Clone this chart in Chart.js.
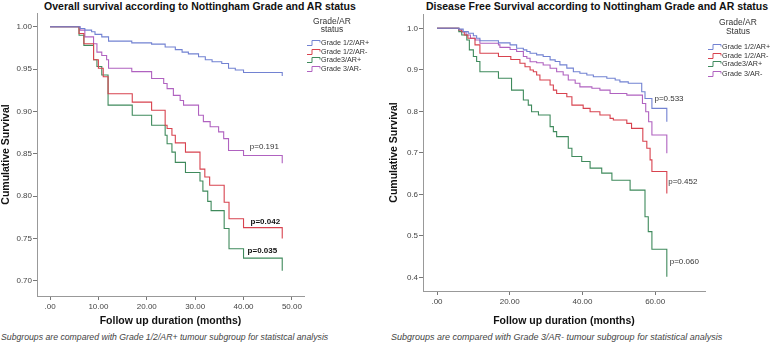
<!DOCTYPE html>
<html>
<head>
<meta charset="utf-8">
<script src="https://cdn.jsdelivr.net/npm/chart.js@4/dist/chart.umd.min.js"></script>
<style>
  body { margin: 0; background: #fff; font-family: "Liberation Sans", Arial, sans-serif; }
  #wrap { position: relative; width: 778px; height: 345px; overflow: hidden; }
  canvas { position: absolute; top: 0; }
  .title { position: absolute; top: 0; font-weight: bold; font-size: 10.5px; color: #111; white-space: nowrap; text-align: center; }
  .caption { position: absolute; top: 332px; font-style: italic; color: #444; white-space: nowrap; }
</style>
</head>
<body>
<div id="wrap">
  <div class="title" style="left:40px;width:320px">Overall survival according to Nottingham Grade and AR status</div>
  <div class="title" style="left:416px;width:362px">Disease Free Survival according to Nottingham Grade and AR status</div>
  <canvas id="os" width="388" height="330" style="left:0"></canvas>
  <canvas id="dfs" width="390" height="330" style="left:388px"></canvas>
  <div class="caption" style="left:1px;font-size:8.7px">Subgroups are compared with Grade 1/2/AR+ tumour subgroup for statistcal analysis</div>
  <div class="caption" style="left:391px;font-size:9px">Subgroups are compared with Grade 3/AR- tumour subgroup for statistical analysis</div>
</div>
<script>
// group names, colours
var groups = ["Grade 1/2/AR+", "Grade 1/2/AR-", "Grade3/AR+", "Grade 3/AR-"];
var colors = ["#7282d2", "#d8434f", "#3f8a5c", "#b062c0"];

// overall survival: [month, cumulative survival]
var osBlue = [[0,1],[6.2,0.998],[7.2,0.996],[8.6,0.994],[9.3,0.991],[10.7,0.988],[12.1,0.983],[16.9,0.981],[21,0.9795],
  [23.8,0.976],[25.9,0.973],[27.3,0.970],[28.6,0.968],[30.7,0.9645],[32.1,0.961],[33.5,0.9586],[35.5,0.9567],
  [36.9,0.951],[38.3,0.949],[40,0.946],[48,0.946],[48,0.942]];
var osRed = [[0,1],[6,0.992],[7,0.980],[9,0.961],[10,0.951],[11,0.941],[12,0.921],[17,0.911],[21,0.9015],
  [23.8,0.8838],[24.2,0.880],[25.2,0.872],[25.9,0.863],[28,0.852],[31,0.832],[32,0.8227],[33,0.813],[36,0.793],
  [37,0.7735],[40,0.763],[48,0.763],[48,0.750]];
var osGreen = [[0,1],[6,0.990],[7,0.978],[9,0.961],[9.7,0.953],[10.7,0.943],[12,0.9075],[17,0.8956],[21,0.8838],
  [23.8,0.872],[24.2,0.862],[25.2,0.852],[25.9,0.840],[28,0.828],[31,0.818],[31.6,0.806],[32.6,0.794],[33.3,0.783],
  [36,0.762],[37,0.738],[40,0.727],[48,0.727],[48,0.712]];
var osPurple = [[0,1],[6.2,0.996],[7.2,0.988],[9,0.980],[9.7,0.970],[10.7,0.966],[11.7,0.961],[12.1,0.951],[16.9,0.947],
  [21,0.939],[23.5,0.933],[24.2,0.927],[25.5,0.919],[26.9,0.913],[27.6,0.9075],[30.7,0.8956],[31.7,0.888],[33.1,0.882],
  [34.85,0.876],[35.9,0.868],[36.9,0.854],[40,0.848],[48,0.848],[48,0.839]];

// disease free survival
var dfsBlue = [[0,1],[6,0.998],[7.2,0.992],[8.6,0.988],[10,0.982],[10.9,0.976],[11.8,0.970],[16.9,0.965],[20.1,0.960],
  [21.9,0.952],[23.75,0.948],[24.7,0.944],[25.6,0.940],[27.4,0.936],[29.2,0.932],[31.1,0.924],[32.5,0.920],[33.8,0.912],
  [35.7,0.904],[37.5,0.8955],[39.3,0.8916],[41.2,0.8875],[43,0.8834],[46.7,0.8795],[49,0.8754],[50.3,0.871],[52.6,0.8675],
  [56.3,0.847],[57.2,0.831],[59.1,0.807],[63.2,0.807],[63.2,0.775]];
var dfsRed = [[0,1],[6,0.996],[6.8,0.992],[7.5,0.984],[8.5,0.976],[10.45,0.960],[11.8,0.940],[16.9,0.932],[20.3,0.925],
  [22.8,0.916],[24.2,0.9075],[25.6,0.8995],[26.5,0.8955],[27.4,0.8875],[28.3,0.8754],[31.1,0.8634],[32,0.851],[32.9,0.843],
  [35.7,0.835],[37.1,0.815],[40.2,0.807],[42.1,0.799],[44.8,0.791],[47.6,0.783],[48.5,0.779],[52.2,0.771],[53.5,0.759],
  [56.6,0.728],[57.7,0.711],[58.6,0.683],[59.1,0.655],[63.2,0.655],[63.2,0.602]];
var dfsGreen = [[0,1],[6,0.992],[6.8,0.984],[8.2,0.972],[8.9,0.948],[10,0.932],[10.9,0.920],[11.8,0.8955],[16.9,0.8795],
  [20.5,0.851],[23.75,0.8272],[25.1,0.815],[26,0.799],[27.9,0.791],[31.1,0.763],[32,0.751],[32.9,0.739],[36.1,0.711],
  [37.1,0.691],[39.8,0.679],[42.1,0.663],[45.3,0.651],[48.1,0.634],[53.1,0.610],[57.2,0.546],[58.1,0.510],[59.1,0.4675],
  [63.2,0.4675],[63.2,0.4015]];
var dfsPurple = [[0,1],[6,0.996],[6.8,0.992],[8,0.984],[9.2,0.976],[10.5,0.972],[11.8,0.964],[16.9,0.960],[17.3,0.954],
  [20.1,0.949],[21.9,0.944],[23.75,0.932],[24.7,0.928],[25.6,0.9195],[27.4,0.917],[29.2,0.9116],[31.1,0.9036],[32.9,0.8955],
  [34.7,0.8875],[36.1,0.8754],[38,0.8675],[39.3,0.859],[42.6,0.8554],[44.8,0.851],[47.6,0.843],[52.2,0.839],[56.5,0.819],
  [57.4,0.799],[58.2,0.775],[59.1,0.743],[63.2,0.743],[63.2,0.699]];

// ticks
var osXTicks = [0, 10, 20, 30, 40, 50];
var osYTicks = [0.70, 0.75, 0.80, 0.85, 0.90, 0.95, 1.00];
var dfsXTicks = [0, 20, 40, 60];
var dfsYTicks = [0.4, 0.5, 0.6, 0.7, 0.8, 0.9, 1.0];

// p-value labels [text, month, survival, bold]
var osPValues = [["p=0.191", 44.3, 0.858, false], ["p=0.042", 44.5, 0.770, true], ["p=0.035", 43.9, 0.736, true]];
var dfsPValues = [["p=0.533", 63.8, 0.830, false], ["p=0.452", 67.6, 0.630, false], ["p=0.060", 68.0, 0.437, false]];

var FONT = "'Liberation Sans', Arial, sans-serif";

function kmSets(series) {
  return series.map(function(pts, i) {
    return {
      label: groups[i],
      data: pts.map(function(p) { return { x: p[0], y: p[1] }; }),
      borderColor: colors[i],
      borderWidth: 1.1,
      pointRadius: 0,
      stepped: 'before',
      fill: false
    };
  });
}

function fmtX(v) { var s = v.toFixed(2); return s.indexOf("0.") === 0 ? s.slice(1) : s; }

// legend and p-values drawn in the chart
var extras = {
  id: 'extras',
  afterDraw: function(chart) {
    var o = chart.options.plugins.extras;
    var ctx = chart.ctx, a = chart.chartArea;
    ctx.save();
    ctx.fillStyle = '#333';
    ctx.textAlign = 'center';
    ctx.textBaseline = 'middle';
    ctx.font = '8.5px ' + FONT;
    var cx = a.right + o.headX;
    ctx.fillText(o.head[0], cx, o.headY[0]);
    ctx.fillText(o.head[1], cx, o.headY[1]);
    ctx.font = '7.2px ' + FONT;
    ctx.textAlign = 'left';
    chart.data.datasets.forEach(function(ds, i) {
      var y = o.rowY[i], x0 = a.right + 3;
      ctx.strokeStyle = ds.borderColor;
      ctx.lineWidth = 1;
      ctx.beginPath();
      ctx.moveTo(x0, y + 2.5);
      ctx.lineTo(x0 + 5, y + 2.5);
      ctx.lineTo(x0 + 5, y - 2.5);
      ctx.lineTo(x0 + 13, y - 2.5);
      ctx.lineTo(x0 + 13, y - 0.5);
      ctx.stroke();
      ctx.fillStyle = '#333';
      ctx.fillText(ds.label, x0 + 14, y);
    });
    var xs = chart.scales.x, ys = chart.scales.y;
    ctx.textAlign = 'center';
    o.pv.forEach(function(p) {
      ctx.font = (p[3] ? 'bold ' : '') + '8px ' + FONT;
      ctx.fillStyle = p[3] ? '#111' : '#333';
      ctx.fillText(p[0], xs.getPixelForValue(p[1]), ys.getPixelForValue(p[2]));
    });
    ctx.restore();
  }
};

function makeChart(id, series, xr, yr, xt, yt, yDigits, yw, xh, pad, legend, pv) {
  return new Chart(document.getElementById(id), {
    type: 'line',
    data: { datasets: kmSets(series) },
    plugins: [extras],
    options: {
      responsive: false,
      animation: false,
      layout: { padding: pad },
      plugins: {
        legend: { display: false },
        tooltip: { enabled: false },
        extras: { head: legend.head, headX: legend.headX, headY: legend.headY, rowY: legend.rowY, pv: pv }
      },
      scales: {
        x: {
          type: 'linear', min: xr[0], max: xr[1],
          afterBuildTicks: function(s) { s.ticks = xt.map(function(v) { return { value: v }; }); },
          afterFit: function(s) { s.height = xh; },
          ticks: { font: { size: 8, family: FONT }, color: '#444', padding: 2, maxRotation: 0, callback: fmtX },
          grid: { drawOnChartArea: false, drawTicks: true, tickLength: 4, color: '#777' },
          border: { color: '#999', width: 1 },
          title: { display: true, text: 'Follow up duration (months)', font: { size: 10.5, weight: 'bold', family: FONT }, color: '#111', padding: { top: 2, bottom: 3 } }
        },
        y: {
          type: 'linear', min: yr[0], max: yr[1],
          afterBuildTicks: function(s) { s.ticks = yt.map(function(v) { return { value: v }; }); },
          afterFit: function(s) { s.width = yw; },
          ticks: { font: { size: 8, family: FONT }, color: '#444', padding: 1, callback: function(v) { return v.toFixed(yDigits); } },
          grid: { drawOnChartArea: false, drawTicks: true, tickLength: 4, color: '#777' },
          border: { color: '#999', width: 1 },
          title: { display: true, text: 'Cumulative Survival', font: { size: 10.5, weight: 'bold', family: FONT }, color: '#111', padding: { top: 0, bottom: 0 } }
        }
      }
    }
  });
}

makeChart('os', [osBlue, osRed, osGreen, osPurple], [-2.69, 52.5], [0.6823, 1.0162], osXTicks, osYTicks, 2,
  37, 34, { left: 0, right: 84, top: 13, bottom: 0 },
  { head: ['Grade/AR', 'status'], headX: 28, headY: [22, 30], rowY: [43, 52, 60, 69] }, osPValues);

makeChart('dfs', [dfsBlue, dfsRed, dfsGreen, dfsPurple], [-3.85, 73.7], [0.367, 1.0345], dfsXTicks, dfsYTicks, 1,
  35, 39, { left: 0, right: 73, top: 14, bottom: 0 },
  { head: ['Grade/AR', 'Status'], headX: 33, headY: [23, 32], rowY: [47, 56, 64, 74] }, dfsPValues);
</script>
</body>
</html>
